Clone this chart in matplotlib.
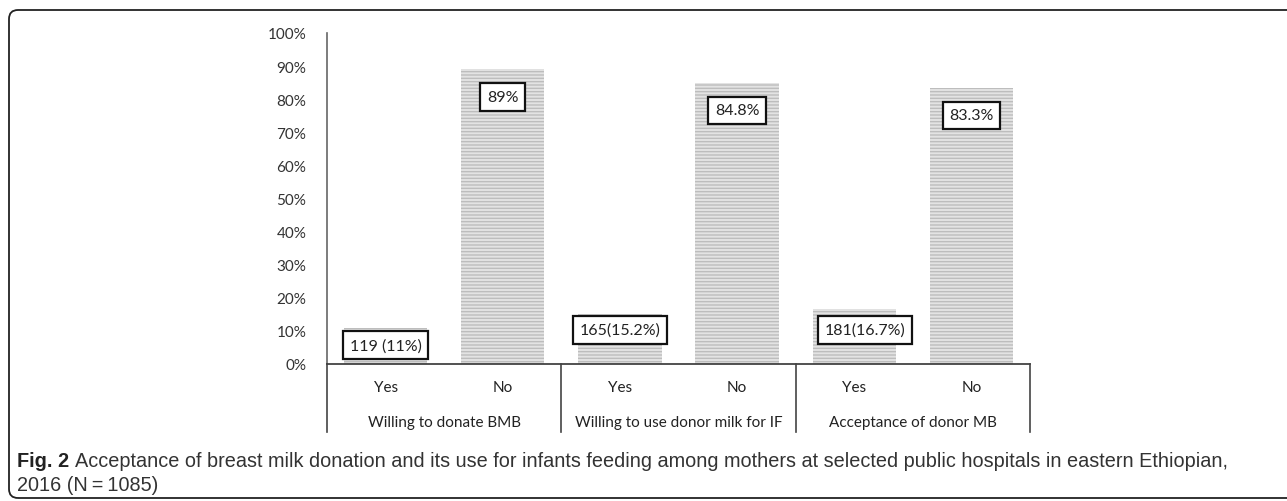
import numpy as np
import matplotlib
matplotlib.use("Agg")
import matplotlib.pyplot as plt
from matplotlib.patches import FancyBboxPatch
from matplotlib.lines import Line2D
from matplotlib.transforms import IdentityTransform

# --- data ---
groups = ["Willing to donate BMB", "Willing to use donor milk for IF", "Acceptance of donor MB"]
answers = ["Yes", "No"]
values = [11.0, 89.0, 15.2, 84.8, 16.7, 83.3]
labels = ["119 (11%)", "89%", "165(15.2%)", "84.8%", "181(16.7%)", "83.3%"]
yticks = [0, 10, 20, 30, 40, 50, 60, 70, 80, 90, 100]

# label layout (where the boxes sit, in axis units)
label_y = [5.7, 80.7, 10.3, 76.6, 10.3, 75.1]
label_dx = [0, 0, 0, 0, 0.09, 0]

plt.rcParams['font.family'] = ['Lato', 'DejaVu Sans']
plt.rcParams['hatch.linewidth'] = 1.0

W, H = 1287, 502
fig = plt.figure(figsize=(W / 100, H / 100), dpi=100)

x0, x1 = 327, 1030
y0, y1 = 365, 34
ax = fig.add_axes([x0 / W, 1 - y0 / H, (x1 - x0) / W, (y0 - y1) / H])

n = len(values)
xpos = np.arange(n)
ax.bar(xpos, values, width=0.71, color='#e3e3e3', edgecolor='#bdbdbd',
       linewidth=0, hatch='-----', zorder=2)

for i in range(n):
    ax.text(xpos[i] + label_dx[i], label_y[i], labels[i], ha='center', va='center',
            fontsize=11.5, color='#222222', zorder=4,
            bbox=dict(boxstyle='square,pad=0.42', fc='white', ec='#111111', lw=1.6))

ax.set_xlim(-0.5, n - 0.5)
ax.set_ylim(0, 100)
ax.set_yticks(yticks)
ax.set_yticklabels([f"{t}%" for t in yticks], fontsize=11, color='#333333')
ax.tick_params(axis='y', length=0, pad=15)
ax.set_xticks([])
for s in ['top', 'right']:
    ax.spines[s].set_visible(False)
ax.spines['left'].set_color('#666666')
ax.spines['left'].set_linewidth(1.2)
ax.spines['bottom'].set_color('#333333')
ax.spines['bottom'].set_linewidth(1.2)

# multi-level category axis
fig_x = lambda v: (x0 + (v + 0.5) * (x1 - x0) / n) / W
for i in range(n):
    fig.text(fig_x(xpos[i]), 1 - 388 / H, answers[i % 2], ha='center', va='center',
             fontsize=11, color='#222222')
for g, name in enumerate(groups):
    fig.text(fig_x(2 * g + 0.5), 1 - 423 / H, name, ha='center', va='center',
             fontsize=11, color='#222222')
for g in range(len(groups) + 1):
    xx = fig_x(2 * g - 0.5)
    fig.add_artist(Line2D([xx, xx], [1 - y0 / H, 1 - 433 / H], color='#444444', lw=1.2))

# caption
cap_font = ['Liberation Sans', 'DejaVu Sans']
fig_lbl = fig.text(17 / W, 1 - 462 / H, "Fig. 2", fontsize=14.3, fontweight='bold',
                   family=cap_font, va='center', color='#222222')
ax.annotate("Acceptance of breast milk donation and its use for infants feeding among mothers at selected public hospitals in eastern Ethiopian,",
            xy=(1, 0.5), xycoords=fig_lbl, xytext=(4, 0), textcoords='offset points',
            va='center', ha='left', fontsize=14.3, family=cap_font, color='#333333',
            annotation_clip=False)
fig.text(17 / W, 1 - 486 / H, "2016 (N\u2009=\u20091085)", fontsize=14.3,
         family=cap_font, va='center', color='#333333')

# outer rounded frame (pixel coordinates)
frame = FancyBboxPatch((9, 3), W + 40, H - 14,
                       boxstyle='round,pad=0,rounding_size=9',
                       transform=IdentityTransform(), fill=False, ec='#222222', lw=1.3)
fig.add_artist(frame)

fig.savefig("out.png", dpi=100)
